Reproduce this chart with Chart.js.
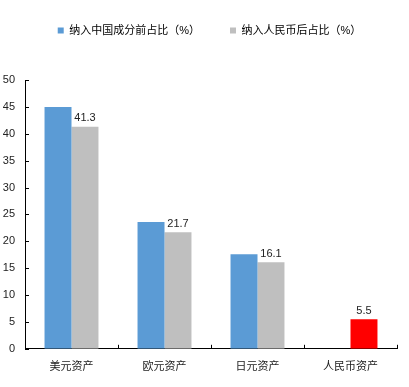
<!DOCTYPE html>
<html><head><meta charset="utf-8">
<script src="https://cdn.jsdelivr.net/npm/chart.js@4"></script>
<style>html,body{margin:0;padding:0;background:#fff}#w{width:409px;height:387px}</style>
</head><body><div id="w"><canvas id="c"></canvas></div>
<script>
const categories = ["美元资产", "欧元资产", "日元资产", "人民币资产"];
const beforeShare = [45.0, 23.6, 17.6, null];
const afterShare = [41.3, 21.7, 16.1, 5.5];
const seriesNames = ["纳入中国成分前占比（%）", "纳入人民币后占比（%）"];
const yTicks = [0, 5, 10, 15, 20, 25, 30, 35, 40, 45, 50];

const FONT = '"Liberation Sans", "Noto Sans CJK SC", sans-serif';
const labelPlugin = {
  id: 'labels',
  afterInit(chart) {
    const lg = chart.legend;
    if (lg && !lg._patched) {
      const orig = lg.fit;
      lg.fit = function () { orig.call(this); this.height += 24; };
      lg._patched = true;
    }
  },
  afterLayout(chart) {
    const lg = chart.legend;
    if (lg) { lg.left += 22; lg.top -= 10; }
  },
  afterDraw(chart) {
    // inward tick marks on both axes
    const ctx = chart.ctx;
    const xs = chart.scales.x, ys = chart.scales.y;
    const a = chart.chartArea;
    ctx.save();
    ctx.strokeStyle = '#000';
    ctx.lineWidth = 1;
    ctx.beginPath();
    const n = categories.length;
    for (let i = 0; i <= n; i++) {
      const px = Math.round(xs.getPixelForValue(i - 0.5)) + 0.5;
      ctx.moveTo(px, a.bottom);
      ctx.lineTo(px, a.bottom - 4);
    }
    yTicks.forEach(v => {
      const py = Math.round(ys.getPixelForValue(v)) + 0.5;
      ctx.moveTo(a.left, py);
      ctx.lineTo(a.left + 4, py);
    });
    ctx.stroke();
    ctx.restore();
  },
  afterDatasetsDraw(chart) {
    const ctx = chart.ctx;
    const meta = chart.getDatasetMeta(1);
    ctx.save();
    ctx.font = '11px ' + FONT;
    ctx.fillStyle = '#222';
    ctx.textAlign = 'center';
    ctx.textBaseline = 'bottom';
    meta.data.forEach((bar, i) => {
      const v = afterShare[i];
      if (v == null) return;
      ctx.fillText(v.toFixed(1), bar.x, bar.y - 3);
    });
    ctx.restore();
  }
};

new Chart(document.getElementById('c'), {
  type: 'bar',
  data: {
    labels: categories,
    datasets: [
      { label: seriesNames[0], data: beforeShare, backgroundColor: '#5B9BD5' },
      { label: seriesNames[1], data: afterShare,
        backgroundColor: afterShare.map((v, i) => i === 3 ? '#FF0000' : '#BFBFBF') }
    ]
  },
  options: {
    responsive: true,
    maintainAspectRatio: false,
    animation: false,
    layout: { padding: { left: 0, right: 12, top: 5, bottom: 1 } },
    datasets: { bar: { categoryPercentage: 0.58, barPercentage: 1.0 } },
    plugins: {
      tooltip: { enabled: false },
      legend: {
        position: 'top',
        labels: {
          boxWidth: 6, boxHeight: 6, padding: 30,
          color: '#222',
          font: { size: 11, family: FONT },
          generateLabels(chart) {
            return chart.data.datasets.map((d, i) => ({
              text: d.label,
              fillStyle: i === 0 ? '#5B9BD5' : '#BFBFBF',
              strokeStyle: 'rgba(0,0,0,0)',
              lineWidth: 0,
              datasetIndex: i
            }));
          }
        }
      }
    },
    scales: {
      x: {
        grid: { display: false, drawTicks: false },
        border: { color: '#000' },
        ticks: { color: '#222', font: { size: 11, family: FONT }, padding: 12 }
      },
      y: {
        min: 0, max: 50,
        afterBuildTicks(s) { s.ticks = yTicks.map(v => ({ value: v })); },
        afterFit(s) { s.width = 25; },
        grid: { display: false, drawTicks: false },
        border: { color: '#000' },
        ticks: { color: '#222', font: { size: 11, family: FONT }, padding: 10 }
      }
    }
  },
  plugins: [labelPlugin]
});
</script></body></html>
